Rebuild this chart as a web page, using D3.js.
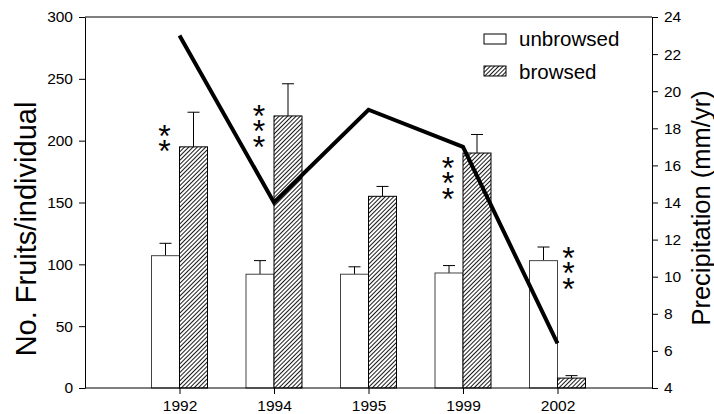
<!DOCTYPE html>
<html>
<head>
<meta charset="utf-8">
<script src="https://cdn.jsdelivr.net/npm/d3@7"></script>
<style>
  body { margin: 0; background: #fff; }
  text { font-family: "Liberation Sans", Arial, sans-serif; fill: #000; }
  .star { writing-mode: vertical-rl; text-orientation: upright; }
</style>
</head>
<body>
<svg id="canvas"></svg>
<script>
let years = ['1992', '1994', '1995', '1999', '2002'];
let unbrowsed = [107, 92, 92, 93, 103];
let unbrowsedErr = [10, 11, 6, 6, 11];
let browsed = [195, 220, 155, 190, 8];
let browsedErr = [28, 26, 8, 15, 2];
let precip = [23, 14, 19, 17, 6.4];
let stars = ['**', '***', '', '***', '***'];
let starSide = ['left', 'left', '', 'left', 'right'];
let starTop = [209, 225, 0, 183, 110];
let leftTicks = [0, 50, 100, 150, 200, 250, 300];
let rightTicks = [4, 6, 8, 10, 12, 14, 16, 18, 20, 22, 24];

let width = 714;
let height = 414;
let padLeft = 85, padRight = 652, padTop = 17, padBottom = 388;
let barW = 28;

let svg = d3.select('#canvas').attr('width', width).attr('height', height);

let xScale = d3.scalePoint()
  .domain(['a'].concat(years).concat(['b']))
  .range([padLeft, padRight]);
let yScale = d3.scaleLinear().domain([0, 300]).range([padBottom, padTop]);
let pScale = d3.scaleLinear().domain([4, 24]).range([padBottom, padTop]);

let defs = svg.append('defs');
let pat = defs.append('pattern')
  .attr('id', 'hatch')
  .attr('patternUnits', 'userSpaceOnUse')
  .attr('width', 3).attr('height', 3)
  .attr('patternTransform', 'rotate(45)');
pat.append('rect').attr('width', 3).attr('height', 3).attr('fill', '#fff');
pat.append('line').attr('x1', 0.5).attr('y1', 0).attr('x2', 0.5).attr('y2', 3)
  .attr('stroke', '#000').attr('stroke-width', 0.9);

// frame top
svg.append('line').attr('x1', padLeft).attr('x2', padRight).attr('y1', padTop).attr('y2', padTop)
  .attr('stroke', '#000').attr('stroke-width', 1);

let bars = svg.append('g');
years.forEach((y, i) => {
  let cx = xScale(y);
  // error bars
  [[unbrowsed[i], unbrowsedErr[i], cx - barW / 2], [browsed[i], browsedErr[i], cx + barW / 2]].forEach(e => {
    bars.append('line').attr('x1', e[2]).attr('x2', e[2])
      .attr('y1', yScale(e[0])).attr('y2', yScale(e[0] + e[1]))
      .attr('stroke', '#000').attr('stroke-width', 1);
    bars.append('line').attr('x1', e[2] - 6).attr('x2', e[2] + 6)
      .attr('y1', yScale(e[0] + e[1])).attr('y2', yScale(e[0] + e[1]))
      .attr('stroke', '#000').attr('stroke-width', 1);
  });
  bars.append('rect')
    .attr('x', cx - barW).attr('y', yScale(unbrowsed[i]))
    .attr('width', barW).attr('height', padBottom - yScale(unbrowsed[i]))
    .attr('fill', '#fff').attr('stroke', '#444').attr('stroke-width', 1);
  bars.append('rect')
    .attr('x', cx).attr('y', yScale(browsed[i]))
    .attr('width', barW).attr('height', padBottom - yScale(browsed[i]))
    .attr('fill', 'url(#hatch)').attr('stroke', '#000').attr('stroke-width', 1);
});

// precipitation line
let line = d3.line().x((d, i) => xScale(years[i])).y(d => pScale(d));
svg.append('path').datum(precip).attr('d', line)
  .attr('fill', 'none').attr('stroke', '#000').attr('stroke-width', 4)
  .attr('stroke-linejoin', 'miter');

// significance stars, stacked in one vertical text
years.forEach((y, i) => {
  if (!stars[i]) return;
  let sx = starSide[i] == 'left' ? xScale(y) - 15 : xScale(y) + 11;
  svg.append('text').attr('class', 'star')
    .attr('x', sx).attr('y', yScale(starTop[i]) - 12)
    .style('font-size', '32px').style('letter-spacing', '-20.5px')
    .text(stars[i]);
});

// axes
let xAxis = d3.axisBottom(xScale).tickSize(6).tickPadding(6)
  .tickValues(years);
let gx = svg.append('g').attr('transform', 'translate(0,' + padBottom + ')').call(xAxis);
gx.select('.domain').attr('d', 'M' + padLeft + ',0H' + padRight);

let yAxis = d3.axisLeft(yScale).tickValues(leftTicks).tickSize(6).tickSizeOuter(0).tickPadding(6);
let gy = svg.append('g').attr('transform', 'translate(' + padLeft + ',0)').call(yAxis);

let pAxis = d3.axisRight(pScale).tickValues(rightTicks).tickSize(6).tickSizeOuter(0).tickPadding(6);
let gp = svg.append('g').attr('transform', 'translate(' + padRight + ',0)').call(pAxis);

svg.selectAll('.tick text').style('font-size', '15.5px').style('font-family', '"Liberation Sans", Arial, sans-serif');
svg.selectAll('.domain, .tick line').attr('stroke', '#000');

svg.append('text')
  .attr('transform', 'translate(36,229) rotate(-90)')
  .attr('text-anchor', 'middle').style('font-size', '29px')
  .text('No. Fruits/individual');
svg.append('text')
  .attr('transform', 'translate(710,208) rotate(-90)')
  .attr('text-anchor', 'middle').style('font-size', '25.5px')
  .text('Precipitation (mm/yr)');

// legend
let legend = svg.append('g');
legend.append('rect').attr('x', 484).attr('y', 34).attr('width', 22).attr('height', 10)
  .attr('fill', '#fff').attr('stroke', '#000');
legend.append('text').attr('x', 519).attr('y', 46).style('font-size', '20.5px').text('unbrowsed');
legend.append('rect').attr('x', 484).attr('y', 66).attr('width', 22).attr('height', 10)
  .attr('fill', 'url(#hatch)').attr('stroke', '#000');
legend.append('text').attr('x', 519).attr('y', 79).style('font-size', '20.5px').text('browsed');
</script>
</body>
</html>
